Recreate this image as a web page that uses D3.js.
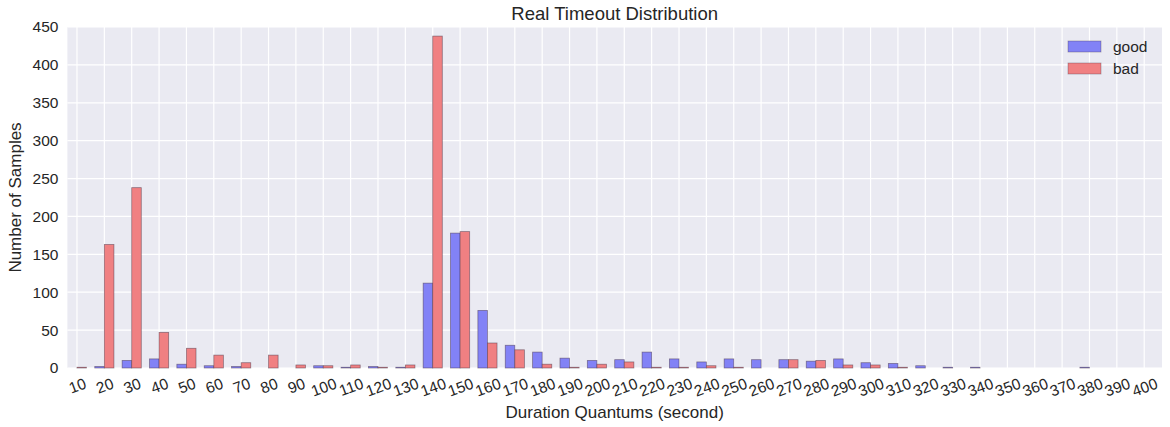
<!DOCTYPE html>
<html>
<head>
<meta charset="utf-8">
<script src="https://cdn.jsdelivr.net/npm/d3@7"></script>
<style>
  html, body { margin: 0; padding: 0; background: #fff; }
  svg { display: block; font-family: "Liberation Sans", Arial, sans-serif; }
</style>
</head>
<body>
<svg id="chart" width="1170" height="427"></svg>
<script>
// Duration buckets (seconds)
const categories = [10, 20, 30, 40, 50, 60, 70, 80, 90, 100,
                    110, 120, 130, 140, 150, 160, 170, 180, 190, 200,
                    210, 220, 230, 240, 250, 260, 270, 280, 290, 300,
                    310, 320, 330, 340, 350, 360, 370, 380, 390, 400];

// Sample counts per bucket
const goodCounts = [0, 2, 10, 12, 5, 3, 2, 0, 0, 3,
                    1, 2, 1, 112, 178, 76, 30, 21, 13, 10,
                    11, 21, 12, 8, 12, 11, 11, 9, 12, 7,
                    6, 3, 1, 1, 0, 0, 0, 1, 0, 0];
const badCounts  = [1, 163, 238, 47, 26, 17, 7, 17, 4, 3,
                    4, 1, 4, 438, 180, 33, 24, 5, 1, 5,
                    8, 1, 1, 3, 1, 0, 11, 10, 4, 4,
                    1, 0, 0, 0, 0, 0, 0, 0, 0, 0];

const yTicks = [0, 50, 100, 150, 200, 250, 300, 350, 400, 450];
const seriesNames = ["good", "bad"];
const seriesColors = ["rgb(130,130,246)", "rgb(240,128,130)"];

const barWidth = 0.35;
const margin = { left: 67.4, right: 1162, top: 27, bottom: 368 };
const textColor = "#262626";

const svg = d3.select("#chart");

const x = d3.scaleLinear().domain([0, categories.length]).range([margin.left, margin.right]);
const y = d3.scaleLinear().domain([0, 450]).range([margin.bottom, margin.top]);

// plot background
svg.append("rect")
  .attr("x", margin.left).attr("y", margin.top)
  .attr("width", margin.right - margin.left)
  .attr("height", margin.bottom - margin.top)
  .attr("fill", "#EAEAF2");

// grid lines
const grid = svg.append("g");
grid.selectAll("line.h").data(yTicks).join("line")
  .attr("x1", margin.left).attr("x2", margin.right)
  .attr("y1", d => y(d)).attr("y2", d => y(d))
  .attr("stroke", "#fff").attr("stroke-width", 1.2);
grid.selectAll("line.v").data(categories).join("line")
  .attr("x1", (d, i) => x(i + barWidth)).attr("x2", (d, i) => x(i + barWidth))
  .attr("y1", margin.top).attr("y2", margin.bottom)
  .attr("stroke", "#fff").attr("stroke-width", 1.2);

// bars
const series = [goodCounts, badCounts];
series.forEach((vals, s) => {
  svg.append("g").selectAll("rect")
    .data(vals.map((v, i) => ({ v, i })).filter(d => d.v > 0))
    .join("rect")
    .attr("x", d => x(d.i + s * barWidth))
    .attr("width", d => x(d.i + (s + 1) * barWidth) - x(d.i + s * barWidth))
    .attr("y", d => y(d.v))
    .attr("height", d => y(0) - y(d.v))
    .attr("fill", seriesColors[s])
    .attr("stroke", "rgba(70,50,70,0.55)")
    .attr("stroke-width", 0.8);
});

// y axis
const yAxis = svg.append("g")
  .attr("transform", `translate(${margin.left},0)`)
  .call(d3.axisLeft(y).tickValues(yTicks).tickSize(0).tickPadding(9));
yAxis.select(".domain").remove();
yAxis.selectAll("text")
  .attr("fill", textColor)
  .style("font-size", "15.5px")
  .style("font-family", "Liberation Sans, Arial, sans-serif");

// x axis with rotated labels
const xAxis = svg.append("g")
  .attr("transform", `translate(0,${margin.bottom})`)
  .call(d3.axisBottom(x)
    .tickValues(categories.map((d, i) => i + barWidth))
    .tickFormat((d, i) => categories[i])
    .tickSize(0));
xAxis.select(".domain").remove();
xAxis.selectAll("text")
  .attr("fill", textColor)
  .style("font-size", "15.5px")
  .style("font-family", "Liberation Sans, Arial, sans-serif")
  .attr("dy", null)
  .attr("dominant-baseline", "central")
  .each(function () {
    const t = d3.select(this);
    const w = this.getComputedTextLength();
    const h = 12;
    const ang = 20 * Math.PI / 180;
    const half = (w * Math.sin(ang) + h * Math.cos(ang)) / 2;
    const cy = 9 + half;
    t.attr("y", cy).attr("transform", `rotate(-20,0,${cy})`);
  });

// title and axis labels
svg.append("text")
  .attr("x", (margin.left + margin.right) / 2).attr("y", 20)
  .attr("text-anchor", "middle")
  .attr("fill", textColor)
  .style("font-size", "18.5px")
  .text("Real Timeout Distribution");

svg.append("text")
  .attr("x", (margin.left + margin.right) / 2).attr("y", 418)
  .attr("text-anchor", "middle")
  .attr("fill", textColor)
  .style("font-size", "17px")
  .text("Duration Quantums (second)");

svg.append("text")
  .attr("transform", `translate(21,${(margin.top + margin.bottom) / 2}) rotate(-90)`)
  .attr("text-anchor", "middle")
  .attr("fill", textColor)
  .style("font-size", "17px")
  .text("Number of Samples");

// legend
const legend = svg.append("g");
seriesNames.forEach((name, s) => {
  const ly = 41 + s * 22;
  legend.append("rect")
    .attr("x", 1068).attr("y", ly)
    .attr("width", 33).attr("height", 11)
    .attr("fill", seriesColors[s])
    .attr("stroke", "rgba(70,50,70,0.4)")
    .attr("stroke-width", 0.8);
  legend.append("text")
    .attr("x", 1113).attr("y", ly + 5.5)
    .attr("dominant-baseline", "central")
    .attr("fill", textColor)
    .style("font-size", "15.5px")
    .text(name);
});
</script>
</body>
</html>
